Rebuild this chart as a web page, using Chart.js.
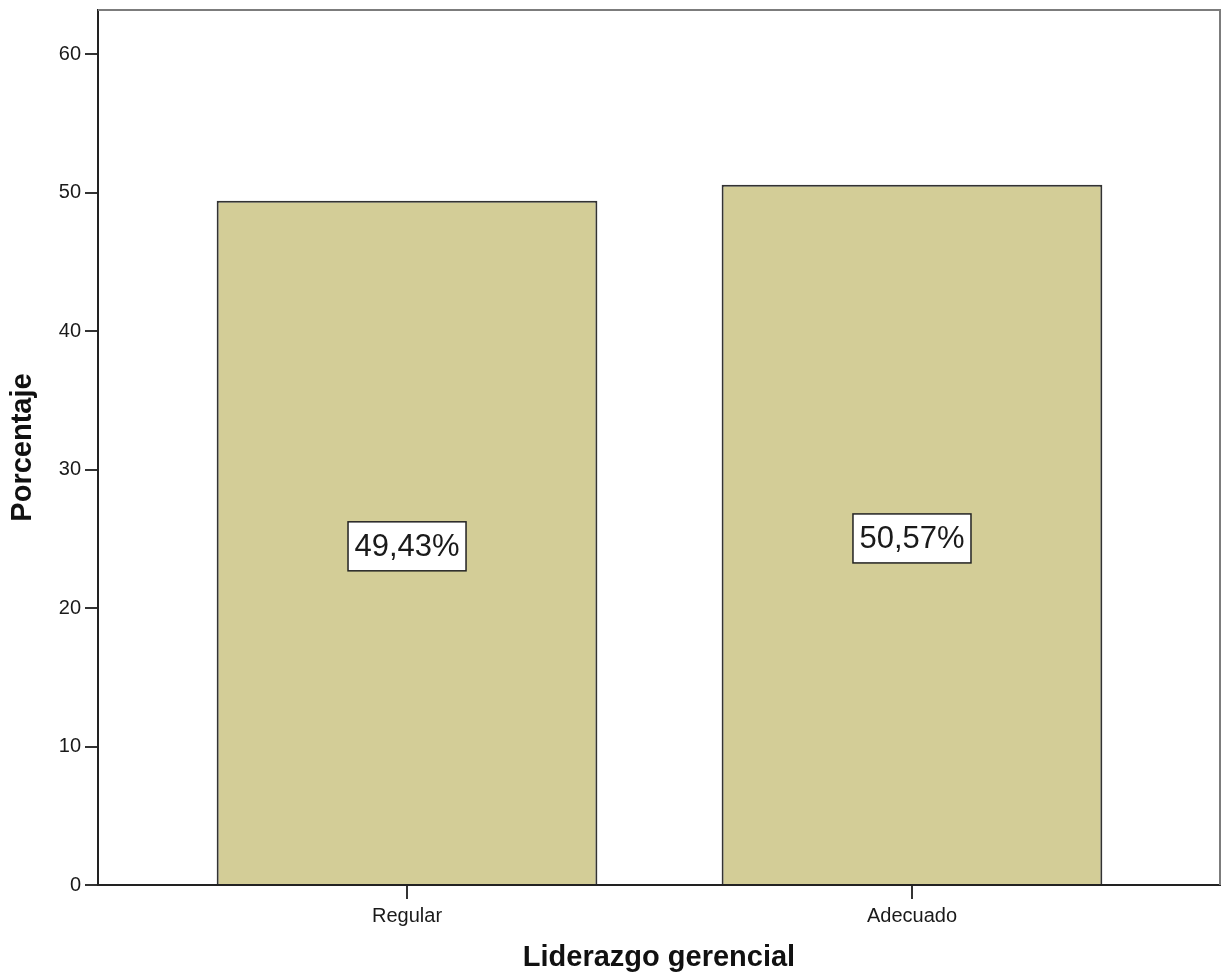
<!DOCTYPE html>
<html>
<head>
<meta charset="utf-8">
<script src="https://cdn.jsdelivr.net/npm/chart.js@4.4.1/dist/chart.umd.min.js"></script>
<style>
  html, body { margin: 0; padding: 0; background: #fff; }
  #wrap { width: 1221px; height: 979px; }
</style>
</head>
<body>
<div id="wrap"><canvas id="mycanvas" width="1221" height="979"></canvas></div>
<script>
// data
var categories = ['Regular', 'Adecuado'];
var porcentaje = [49.43, 50.57];
var yTicks = [0, 10, 20, 30, 40, 50, 60];

var FONT = "'Liberation Sans', Arial, sans-serif";

// white boxed percentage labels in the middle of each bar
var boxLabels = {
  id: 'boxLabels',
  afterDatasetsDraw: function(chart) {
    var ctx = chart.ctx;
    var meta = chart.getDatasetMeta(0);
    ctx.save();
    ctx.font = '31px ' + FONT;
    ctx.textAlign = 'center';
    ctx.textBaseline = 'middle';
    meta.data.forEach(function(bar, i) {
      var txt = porcentaje[i].toFixed(2).replace('.', ',') + '%';
      var cx = bar.x;
      var cy = (bar.y + bar.base) / 2 + 4;
      var w = 118, h = 49;
      ctx.fillStyle = '#ffffff';
      ctx.fillRect(cx - w / 2, cy - h / 2, w, h);
      ctx.strokeStyle = '#222222';
      ctx.lineWidth = 1.5;
      ctx.strokeRect(cx - w / 2, cy - h / 2, w, h);
      ctx.fillStyle = '#1a1a1a';
      ctx.fillText(txt, cx, cy + 1);
    });
    ctx.restore();
  }
};

// gray top/right frame of the plot
var frame = {
  id: 'frame',
  beforeDatasetsDraw: function(chart) {
    var a = chart.chartArea;
    var ctx = chart.ctx;
    ctx.save();
    ctx.strokeStyle = '#7c7c7c';
    ctx.lineWidth = 2;
    ctx.beginPath();
    ctx.moveTo(a.left, a.top);
    ctx.lineTo(a.right, a.top);
    ctx.lineTo(a.right, a.bottom);
    ctx.stroke();
    ctx.restore();
  }
};

var chartdata = {
  datasets: [{
    label: 'Porcentaje',
    data: porcentaje.map(function(v, i) { return { x: i, y: v }; }),
    backgroundColor: '#d3cd97',
    borderColor: '#333333',
    borderWidth: 2,
    borderSkipped: 'bottom',
    barPercentage: 0.754,
    categoryPercentage: 1
  }]
};

var ctx = document.getElementById('mycanvas');
var barGraph = new Chart(ctx, {
  type: 'bar',
  data: chartdata,
  plugins: [frame, boxLabels],
  options: {
    responsive: false,
    animation: false,
    devicePixelRatio: 1,
    layout: { padding: { top: 10, right: 1, left: 0, bottom: 0 } },
    plugins: {
      legend: { display: false },
      tooltip: { enabled: false }
    },
    scales: {
      x: {
        type: 'linear',
        offset: false,
        min: -0.612,
        max: 1.61,
        afterBuildTicks: function(scale) {
          scale.ticks = categories.map(function(c, i) { return { value: i }; });
        },
        afterFit: function(scale) {
          scale.height = 94;
          scale.paddingLeft = 0;
          scale.paddingRight = 0;
        },
        ticks: {
          font: { family: FONT, size: 20 },
          color: '#1a1a1a',
          padding: 5,
          maxRotation: 0,
          callback: function(v) { return categories[v]; }
        },
        grid: {
          display: true,
          offset: false,
          drawOnChartArea: false,
          drawTicks: true,
          tickLength: 14,
          color: '#333',
          lineWidth: 2
        },
        border: { display: true, color: '#222', width: 2 },
        title: {
          display: true,
          text: 'Liderazgo gerencial',
          font: { family: FONT, size: 29, weight: 'bold' },
          color: '#111'
        }
      },
      y: {
        min: 0,
        max: 63.2,
        afterBuildTicks: function(scale) {
          scale.ticks = yTicks.map(function(v) { return { value: v }; });
        },
        afterFit: function(scale) {
          scale.width = 98;
          scale.paddingTop = 0;
          scale.paddingBottom = 0;
        },
        ticks: {
          font: { family: FONT, size: 20 },
          color: '#1a1a1a',
          padding: 4
        },
        grid: {
          display: true,
          drawOnChartArea: false,
          drawTicks: true,
          tickLength: 13,
          color: '#333',
          lineWidth: 2
        },
        border: { display: true, color: '#222', width: 2 },
        title: {
          display: true,
          text: 'Porcentaje',
          font: { family: FONT, size: 29, weight: 'bold' },
          color: '#111',
          padding: { top: 6, bottom: 4 }
        }
      }
    }
  }
});
</script>
</body>
</html>
